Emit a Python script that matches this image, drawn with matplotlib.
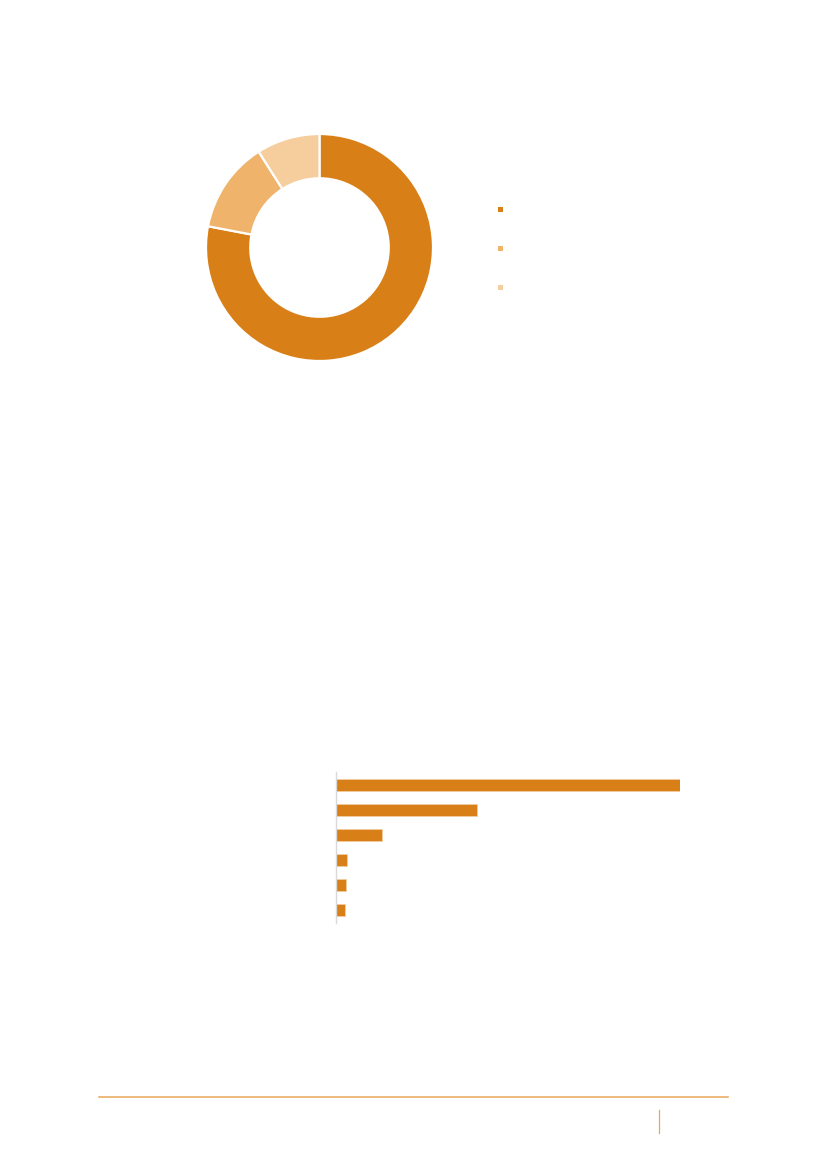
import matplotlib
matplotlib.use("Agg")
import matplotlib.pyplot as plt
from matplotlib.patches import Rectangle
from matplotlib.lines import Line2D

W, H = 827, 1169

# donut chart data (share of total, clockwise from 12 o'clock)
donut_values = [78, 13, 9]
donut_colors = ["#D87F17", "#F0B36B", "#F6CE9E"]

# bar chart data (top to bottom)
bar_values = [100, 41, 13.5, 3.2, 3.0, 2.8]
bar_color = "#D87F17"


def px_axes(fig, x0, y0, x1, y1):
    """axes from pixel box (top-left origin)"""
    return fig.add_axes([x0 / W, 1 - y1 / H, (x1 - x0) / W, (y1 - y0) / H])


fig = plt.figure(figsize=(W / 100, H / 100), dpi=100)

# --- donut
ax = px_axes(fig, 206, 134, 433, 361)
ax.pie(donut_values, colors=donut_colors, startangle=90, counterclock=False,
       wedgeprops=dict(width=0.39, edgecolor="white", linewidth=1.6))
ax.set_xlim(-1, 1)
ax.set_ylim(-1, 1)
ax.set_aspect("equal")
ax.axis("off")

# legend squares (labels are empty in the source)
for i, c in enumerate(donut_colors):
    cy = 209.3 + i * 38.9
    fig.add_artist(Rectangle(((498) / W, 1 - (cy + 2.6) / H), 5.2 / W, 5.2 / H,
                             transform=fig.transFigure, color=c, lw=0))

# --- bars
ax2 = px_axes(fig, 335.5, 772, 680.5, 923)
ax2.barh(range(len(bar_values)), bar_values, height=0.48, color=bar_color,
         edgecolor="#F2CDA0", linewidth=0.6)
ax2.set_xlim(0, 100)
ax2.set_ylim(len(bar_values) - 0.48, -0.52)
for s in ["top", "right", "bottom"]:
    ax2.spines[s].set_visible(False)
ax2.spines["left"].set_color("#D9D9D9")
ax2.spines["left"].set_linewidth(1.0)
ax2.set_xticks([])
ax2.set_yticks([])
ax2.patch.set_alpha(0)

# --- footer
fig.add_artist(Line2D([98.5 / W, 727.7 / W], [1 - 1097.3 / H] * 2,
                      transform=fig.transFigure, color="#E8A65A", lw=1.1))
fig.add_artist(Line2D([659.3 / W] * 2, [1 - 1110 / H, 1 - 1132.7 / H],
                      transform=fig.transFigure, color="#E8A65A", lw=0.9))

fig.savefig("out.png", dpi=100)
